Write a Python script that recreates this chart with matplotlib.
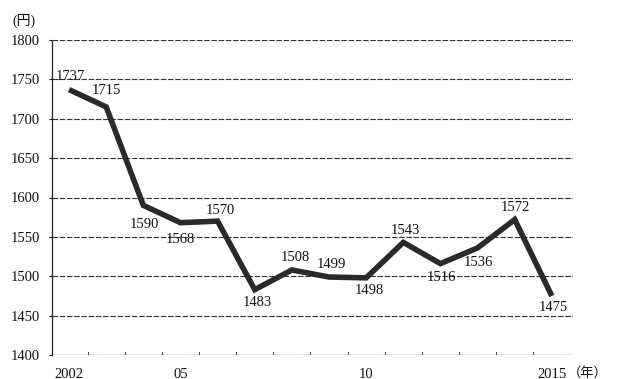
import matplotlib
matplotlib.use("Agg")
import matplotlib.pyplot as plt

plt.rcParams['font.family'] = ['Liberation Serif', 'Noto Sans CJK JP']

# yearly values (円)
years = [2002, 2003, 2004, 2005, 2006, 2007, 2008, 2009, 2010, 2011, 2012, 2013, 2014, 2015]
values = [1737, 1715, 1590, 1568, 1570, 1483, 1508, 1499, 1498, 1543, 1516, 1536, 1572, 1475]
tick_years = [2002, 2005, 2010, 2015]
tick_labels = ["2002", "05", "10", "2015"]
y_ticks = [1400, 1450, 1500, 1550, 1600, 1650, 1700, 1750, 1800]

# label offsets from each point, in pixels (dx right, dy down)
label_offsets_px = [(1, -13), (0, -16), (1, 19), (0, 17), (3, -11), (3, 13), (3, -12),
                    (2, -13), (3, 13), (2, -12), (1, 14), (1, 15), (1, -12), (2, 12)]

fig = plt.figure(figsize=(6.19, 3.79), dpi=100)
ax = fig.add_axes([52 / 619, 1 - 355 / 379, (573 - 52) / 619, (355 - 40) / 379])

ax.set_xlim(2001.54, 2015.57)
ax.set_ylim(1400, 1800)

# horizontal grid
for yv in y_ticks[1:]:
    ax.axhline(yv, color="#333333", lw=0.8, ls=(0, (5, 1.5)), zorder=1)
ax.axhline(1400, color="#333333", lw=0.9, ls=(0, (6, 1)), zorder=1)

for side in ("top", "right", "bottom"):
    ax.spines[side].set_visible(False)
ax.spines["left"].set_linestyle((0, (2, 1)))
ax.spines["left"].set_linewidth(0.9)
ax.spines["left"].set_color("#222222")

ax.plot(years, values, color="#2a2a2a", lw=4.0, solid_joinstyle="miter",
        solid_capstyle="butt", zorder=3)

for x, v, (dx, dy) in zip(years, values, label_offsets_px):
    ax.annotate(str(v), (x, v), xytext=(dx * 0.72, -dy * 0.72), textcoords="offset points",
                ha="center", va="center", fontsize=10.5, color="#111111", zorder=4)

ax.set_yticks(y_ticks)
ax.set_yticklabels([str(t) for t in y_ticks])
ax.tick_params(axis="y", length=2.5, width=0.8, pad=6, labelsize=10.5, colors="#111111")

ax.set_xticks(tick_years)
ax.set_xticklabels(tick_labels)
ax.tick_params(axis="x", length=0, pad=9, labelsize=10.5, colors="#111111")

# small inner ticks on the baseline between years
for b in range(2002, 2015):
    ax.plot([b + 0.5, b + 0.5], [1400, 1404], color="#444444", lw=0.7, zorder=2)

fig.text(12 / 619, 1 - 21 / 379, "(円)", fontsize=10, ha="left", va="center",
         color="#111111")
fig.text(588 / 619, 1 - 373 / 379, "（年）", fontsize=9.5, ha="center", va="center",
         color="#111111")

fig.savefig("out.png", dpi=100)
